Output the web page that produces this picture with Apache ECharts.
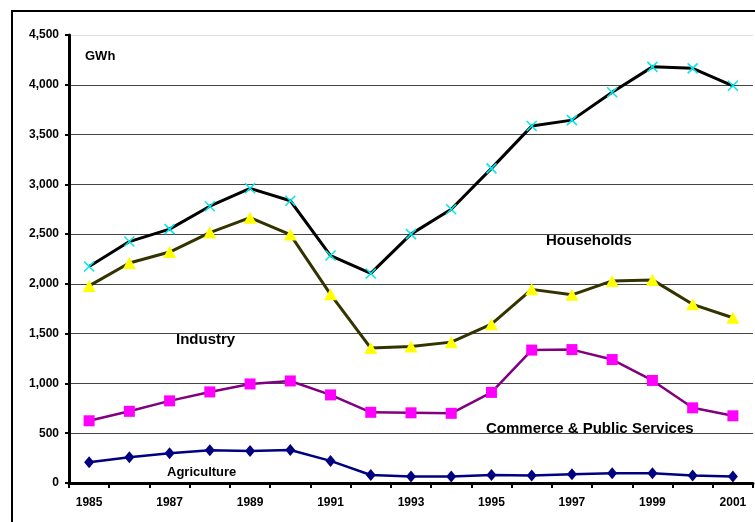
<!DOCTYPE html>
<html>
<head>
<meta charset="utf-8">
<script src="https://cdn.jsdelivr.net/npm/echarts@6/dist/echarts.min.js"></script>
<style>
html,body{margin:0;padding:0;background:#fff;}
#chart{width:755px;height:522px;}
</style>
</head>
<body>
<div id="chart"></div>
<script>
const years = ['1985','1986','1987','1988','1989','1990','1991','1992','1993','1994','1995','1996','1997','1998','1999','2000','2001'];
const households = [2175,2425,2550,2780,2960,2835,2285,2105,2500,2750,3160,3585,3645,3925,4180,4165,3990];
const industry = [1980,2210,2320,2515,2665,2495,1895,1355,1370,1415,1595,1945,1890,2030,2040,1795,1660];
const commerce = [625,720,825,915,995,1025,885,710,705,700,910,1335,1340,1240,1030,755,675];
const agriculture = [208,258,298,330,322,332,222,80,66,66,80,76,88,97,97,76,66];
const yTicks = {min:0, max:4500, interval:500};

const chart = echarts.init(document.getElementById('chart'));
const labelFont = {fontFamily:'Liberation Sans, Arial, sans-serif', fontWeight:'bold', color:'#000'};
const splitColors = ['#444','#444','#444','#444','#444','#444','#444','#444','#444','#dddddd'];

chart.setOption({
  animation:false,
  grid:{left:69, right:2, top:35, bottom:39, containLabel:false},
  xAxis:{
    type:'category',
    data:years,
    boundaryGap:true,
    axisLine:{lineStyle:{color:'#000', width:3}},
    axisTick:{show:true, alignWithLabel:false, interval:0, length:5, lineStyle:{color:'#000', width:2}},
    axisLabel:{interval:1, margin:14, fontSize:12, ...labelFont}
  },
  yAxis:{
    type:'value',
    min:yTicks.min, max:yTicks.max, interval:yTicks.interval,
    axisLine:{show:true, lineStyle:{color:'#000', width:3}},
    axisTick:{show:true, length:4, lineStyle:{color:'#000', width:2}},
    axisLabel:{margin:10, fontSize:12, ...labelFont,
      formatter:v=>v.toLocaleString('en-US')},
    splitLine:{show:true, lineStyle:{color:splitColors, width:1}}
  },
  series:[
    {name:'Agriculture', type:'line', data:agriculture, symbol:'diamond', symbolSize:[10,12],
      lineStyle:{color:'#000080', width:2.5}, itemStyle:{color:'#000080'}},
    {name:'Commerce & Public Services', type:'line', data:commerce, symbol:'rect', symbolSize:11,
      lineStyle:{color:'#800080', width:2.5}, itemStyle:{color:'#ff00ff'}},
    {name:'Industry', type:'line', data:industry, symbol:'triangle', symbolSize:[13,12],
      lineStyle:{color:'#333300', width:3}, itemStyle:{color:'#ffff00'}},
    {name:'Households', type:'line', data:households, symbol:'path://M0,0L10,10M10,0L0,10', symbolSize:10,
      lineStyle:{color:'#000', width:3},
      itemStyle:{color:'#00ffff', borderColor:'#00e8e8', borderWidth:1.5}}
  ],
  graphic:[
    {type:'rect', shape:{x:12, y:11, width:800, height:600}, style:{fill:'none', stroke:'#000', lineWidth:2}, silent:true},
    {type:'text', left:85, top:50, style:{text:'GWh', font:'bold 13px Liberation Sans, Arial, sans-serif', fill:'#000'}},
    {type:'text', left:546, top:233, style:{text:'Households', font:'bold 15px Liberation Sans, Arial, sans-serif', fill:'#000'}},
    {type:'text', left:176, top:332, style:{text:'Industry', font:'bold 15px Liberation Sans, Arial, sans-serif', fill:'#000'}},
    {type:'text', left:486, top:421, style:{text:'Commerce & Public Services', font:'bold 15px Liberation Sans, Arial, sans-serif', fill:'#000'}},
    {type:'text', left:167, top:466, style:{text:'Agriculture', font:'bold 13px Liberation Sans, Arial, sans-serif', fill:'#000'}}
  ]
});
</script>
</body>
</html>
